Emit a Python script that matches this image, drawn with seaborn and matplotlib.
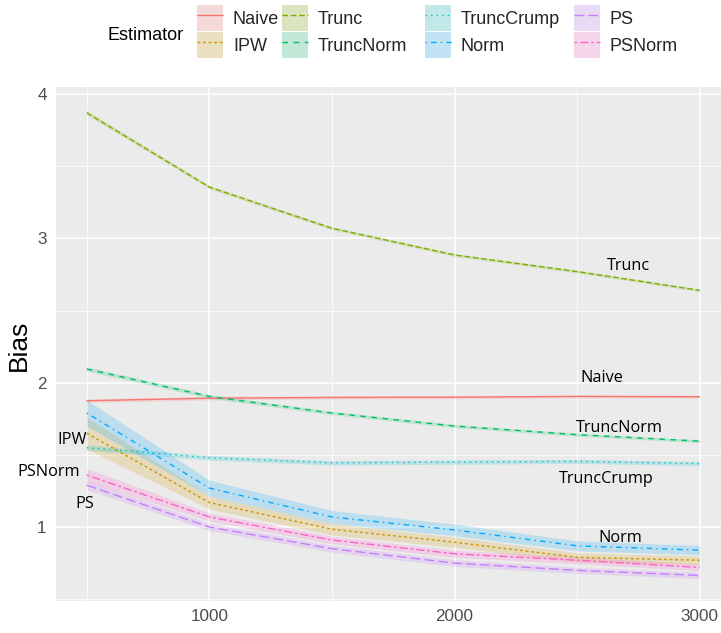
import matplotlib
matplotlib.use("Agg")
import matplotlib.pyplot as plt
import pandas as pd
import seaborn as sns
from matplotlib.patches import Patch
from matplotlib.lines import Line2D
from matplotlib.legend_handler import HandlerTuple

# ---- data -------------------------------------------------------------
sample_size = [500, 1000, 1500, 2000, 2500, 3000]
estimators = ["Naive", "IPW", "Trunc", "TruncNorm", "TruncCrump", "Norm", "PS", "PSNorm"]

bias_naive = [1.875, 1.893, 1.898, 1.900, 1.905, 1.903]
bias_ipw = [1.65, 1.17, 0.985, 0.895, 0.79, 0.77]
bias_trunc = [3.87, 3.355, 3.07, 2.885, 2.77, 2.64]
bias_trunc_norm = [2.095, 1.905, 1.79, 1.70, 1.64, 1.595]
bias_trunc_crump = [1.55, 1.48, 1.445, 1.45, 1.455, 1.44]
bias_norm = [1.79, 1.27, 1.07, 0.98, 0.87, 0.84]
bias_ps = [1.29, 1.00, 0.85, 0.75, 0.70, 0.665]
bias_ps_norm = [1.36, 1.07, 0.91, 0.815, 0.77, 0.72]

# half-width of the confidence band around each curve
hw_naive = [0.012, 0.012, 0.011, 0.011, 0.010, 0.010]
hw_ipw = [0.11, 0.045, 0.04, 0.035, 0.032, 0.03]
hw_trunc = [0.015, 0.012, 0.011, 0.010, 0.010, 0.009]
hw_trunc_norm = [0.015, 0.013, 0.012, 0.011, 0.011, 0.010]
hw_trunc_crump = [0.018, 0.016, 0.015, 0.015, 0.014, 0.014]
hw_norm = [0.09, 0.055, 0.045, 0.04, 0.035, 0.032]
hw_ps = [0.03, 0.025, 0.024, 0.023, 0.022, 0.022]
hw_ps_norm = [0.045, 0.028, 0.026, 0.025, 0.024, 0.023]

# direct labels placed next to the curves (x, y in data units)
label_x = [2602, 440, 2708, 2673, 2620, 2675, 493, 346]
label_y = [2.032, 1.603, 2.808, 1.686, 1.333, 0.924, 1.159, 1.381]

# ---- styling ---------------------------------------------------------
colors = ["#F8766D", "#CD9600", "#7CAE00", "#00BE67",
          "#00BFC4", "#00A9FF", "#C77CFF", "#FF61CC"]
linetypes = ["", (2, 2), (4, 2), (4, 4), (1, 3), (1, 3, 4, 3), (7, 3), (2, 2, 6, 2)]
palette = dict(zip(estimators, colors))
dash_map = dict(zip(estimators, linetypes))

bias_all = [bias_naive, bias_ipw, bias_trunc, bias_trunc_norm,
            bias_trunc_crump, bias_norm, bias_ps, bias_ps_norm]
hw_all = [hw_naive, hw_ipw, hw_trunc, hw_trunc_norm,
          hw_trunc_crump, hw_norm, hw_ps, hw_ps_norm]

rows = []
for est, vals, hws in zip(estimators, bias_all, hw_all):
    for n, v, h in zip(sample_size, vals, hws):
        rows.append({"n": n, "Bias": v, "lo": v - h, "hi": v + h, "Estimator": est})
df = pd.DataFrame(rows)

sns.set_theme(style="darkgrid", rc={
    "axes.facecolor": "#EBEBEB",
    "grid.color": "white",
    "axes.edgecolor": "#EBEBEB",
})
plt.rcParams["font.family"] = ["Liberation Sans", "DejaVu Sans"]

LW = 1.0
fig = plt.figure(figsize=(7.21, 6.33), dpi=100)
ax = fig.add_axes([0.0779, 0.0513, 0.935, 0.812])

# confidence ribbons
for est in estimators:
    sub = df[df["Estimator"] == est]
    ax.fill_between(sub["n"], sub["lo"], sub["hi"], color=palette[est],
                    alpha=0.2, linewidth=0, zorder=2)

sns.lineplot(data=df, x="n", y="Bias", hue="Estimator", style="Estimator",
             hue_order=estimators, style_order=estimators,
             palette=palette, dashes=dash_map, linewidth=LW,
             legend=False, ax=ax, zorder=3)

for est, lx, ly in zip(estimators, label_x, label_y):
    ax.text(lx, ly, est, ha="center", va="center", fontsize=11.7,
            family=["Open Sans", "DejaVu Sans"], color="black",
            clip_on=False, zorder=5)

# axes
ax.set_xlim(375, 3125)
ax.set_ylim(0.491, 4.052)
ax.set_xticks([1000, 2000, 3000])
ax.set_xticks([500, 1500, 2500], minor=True)
ax.set_yticks([1, 2, 3, 4])
ax.set_yticks([0.5, 1.5, 2.5, 3.5], minor=True)
ax.set_xticklabels(["1000", "2000", "3000"])
ax.set_yticklabels(["1", "2", "3", "4"])
ax.grid(which="major", color="white", linewidth=1.1)
ax.grid(which="minor", color="white", linewidth=0.55)
ax.tick_params(axis="both", which="major", length=3.8, width=0.8,
               color="#333333", labelcolor="#4D4D4D", labelsize=12.3, pad=3)
ax.tick_params(axis="both", which="minor", length=0)
ax.tick_params(axis="x", which="major", pad=2.5)
for s in ax.spines.values():
    s.set_visible(False)
ax.set_xlabel("")
ax.set_ylabel("")

fig.text(19 / 721, 1 - 345 / 633, "Bias", rotation=90, ha="center", va="center",
         fontsize=19, color="black")

# legend: four columns of two keys each
handles = []
for est in estimators:
    c = palette[est]
    d = dash_map[est]
    if d == "":
        ln = Line2D([], [], color=c, linewidth=LW, linestyle="-")
    else:
        ln = Line2D([], [], color=c, linewidth=LW, dashes=d)
    handles.append((Patch(facecolor="#F2F2F2", edgecolor="none"),
                    Patch(facecolor=c, alpha=0.2, edgecolor="none"), ln))

fig.text(108 / 721, 1 - 40 / 633, "Estimator", ha="left", va="baseline",
         fontsize=13, color="black")
column_left = [197, 282, 425, 574]
for i, x0 in enumerate(column_left):
    fig.legend(handles[2 * i:2 * i + 2], estimators[2 * i:2 * i + 2], ncol=1,
               loc="upper left",
               bbox_to_anchor=(x0 / 721, 1 - 5.5 / 633), bbox_transform=fig.transFigure,
               frameon=False, fontsize=13, borderpad=0, borderaxespad=0,
               handlelength=1.44, handleheight=1.8, handletextpad=0.55,
               labelspacing=0.08,
               handler_map={tuple: HandlerTuple(ndivide=1, pad=0)})

fig.savefig("out.png", dpi=100)
